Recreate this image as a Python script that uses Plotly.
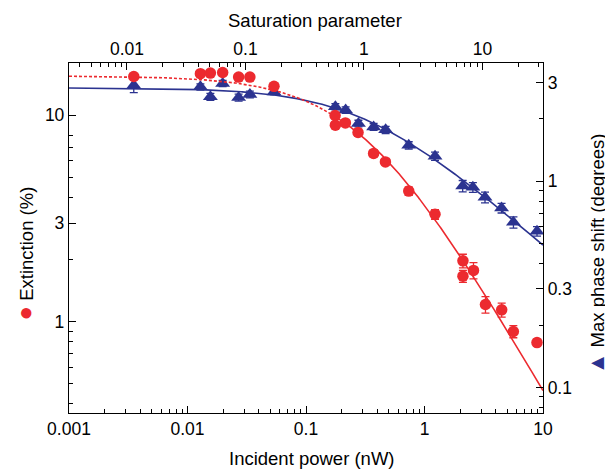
import numpy as np
import plotly.graph_objects as go

# ---------------- data ----------------
power_ext = [0.00352, 0.01285, 0.0156, 0.0198, 0.0270, 0.0336, 0.0537, 0.176, 0.177,
             0.215, 0.275, 0.372, 0.468, 0.736, 1.227, 2.11, 2.11, 2.59, 3.27, 4.48,
             5.62, 8.90]
extinction = [15.4, 15.9, 16.0, 16.1, 15.3, 15.3, 13.8, 9.97, 8.95, 9.18, 8.25, 6.53,
              5.94, 4.29, 3.31, 1.97, 1.66, 1.77, 1.21, 1.14, 0.895, 0.791]
extinction_err = [0.3, 0.3, 0.3, 0.3, 0.3, 0.3, 0.3, 0.3, 0.3, 0.3, 0.3, 0.25, 0.2,
                  0.2, 0.18, 0.15, 0.11, 0.16, 0.11, 0.09, 0.06, 0.03]

power_ph = [0.00352, 0.01285, 0.0156, 0.0198, 0.0270, 0.0336, 0.0537, 0.177, 0.216,
            0.277, 0.372, 0.470, 0.736, 1.227, 2.10, 2.56, 3.24, 4.47, 5.63, 8.90]
phase = [2.91, 2.86, 2.56, 2.97, 2.54, 2.63, 2.70, 2.29, 2.21, 1.90, 1.83, 1.77, 1.49,
         1.32, 0.946, 0.932, 0.834, 0.740, 0.631, 0.571]
phase_err = [0.23, 0.1, 0.1, 0.1, 0.1, 0.1, 0.08, 0.08, 0.08, 0.07, 0.07, 0.07, 0.06,
             0.06, 0.06, 0.05, 0.05, 0.04, 0.04, 0.03]

# fit parameters of the saturation model curves
E0 = 15.5          # low-power extinction (%)
PHI0 = 2.83        # low-power phase shift (deg)
P_SAT = 0.308      # saturation power (nW), s = P / P_SAT
P_SWITCH = 0.17    # red fit drawn dashed below this power

bottom_ticks = [0.001, 0.01, 0.1, 1, 10]
bottom_labels = ["0.001", "0.01", "0.1", "1", "10"]
top_ticks = [0.01, 0.1, 1, 10]
top_labels = ["0.01", "0.1", "1", "10"]
left_ticks = [1, 3, 10]
left_labels = ["1", "3", "10"]
right_ticks = [0.1, 0.3, 1, 3]
right_labels = ["0.1", "0.3", "1", "3"]

RED = "#EC2A2F"
BLUE = "#2B3390"
FONT = "Liberation Sans, Arial, sans-serif"

# ---------------- model curves ----------------
P = np.logspace(-3, 1, 400)
s = P / P_SAT
ext_fit = E0 / (1 + s)
ph_fit = PHI0 / np.sqrt(1 + s)
lo = P <= P_SWITCH
hi = P >= P_SWITCH

fig = go.Figure()

# blue (phase) on y (right side)
fig.add_trace(go.Scatter(x=P, y=ph_fit, mode="lines", line=dict(color=BLUE, width=1.6),
                         xaxis="x", yaxis="y", hoverinfo="skip", showlegend=False))
fig.add_trace(go.Scatter(x=power_ph, y=phase, mode="markers",
                         marker=dict(symbol="triangle-up", size=13, color=BLUE),
                         error_y=dict(type="data", array=phase_err, color=BLUE,
                                      thickness=1.3, width=4),
                         xaxis="x", yaxis="y", showlegend=False))
# invisible helper trace activating the top axis
fig.add_trace(go.Scatter(x=[1], y=[1], mode="markers", marker=dict(opacity=0),
                         xaxis="x2", yaxis="y", hoverinfo="skip", showlegend=False))

# red (extinction) on y2 (left side)
fig.add_trace(go.Scatter(x=P[lo], y=ext_fit[lo], mode="lines",
                         line=dict(color=RED, width=1.6, dash="3px,2px"),
                         xaxis="x", yaxis="y2", hoverinfo="skip", showlegend=False))
fig.add_trace(go.Scatter(x=P[hi], y=ext_fit[hi], mode="lines",
                         line=dict(color=RED, width=1.6),
                         xaxis="x", yaxis="y2", hoverinfo="skip", showlegend=False))
fig.add_trace(go.Scatter(x=power_ext, y=extinction, mode="markers",
                         marker=dict(symbol="circle", size=11.5, color=RED),
                         error_y=dict(type="data", array=extinction_err, color=RED,
                                      thickness=1.3, width=4),
                         xaxis="x", yaxis="y2", showlegend=False))


def minor_vals(lo_dec, hi_dec, vmin, vmax, skip=()):
    vals = []
    for d in range(lo_dec, hi_dec + 1):
        for m in range(2, 10):
            v = m * 10.0 ** d
            if vmin < v < vmax and round(v, 6) not in skip:
                vals.append(v)
    return vals


tickfont = dict(family=FONT, size=17.5, color="black")
axis_common = dict(type="log", showgrid=False, zeroline=False, showline=True,
                   linecolor="black", linewidth=1.3, ticks="inside", ticklen=7,
                   tickwidth=1.2, tickcolor="black", tickfont=tickfont)

xr = [-3, 1]
x2r = [-2.489, 1.511]
y2r = [-0.443, 1.253]   # extinction, left
yr = [-1.124, 0.572]    # phase, right

# page body adds an 8px offset, so the figure is sized to fit the 613x470 window
fig.update_layout(
    width=605, height=462,
    margin=dict(l=61, r=70, t=55, b=57),
    paper_bgcolor="white", plot_bgcolor="white",
    font=dict(family=FONT, color="black"),
    xaxis=dict(axis_common, range=xr, side="bottom", tickmode="array",
               tickvals=bottom_ticks, ticktext=bottom_labels,
               minor=dict(tickmode="array", tickvals=minor_vals(-3, 0, 0.001, 10),
                          ticks="inside", ticklen=4, tickcolor="black", tickwidth=1)),
    xaxis2=dict(axis_common, range=x2r, side="top", overlaying="x", anchor="y",
                tickmode="array", tickvals=top_ticks, ticktext=top_labels,
                minor=dict(tickmode="array", tickvals=minor_vals(-3, 1, 0.0032, 32.5),
                           ticks="inside", ticklen=4, tickcolor="black", tickwidth=1)),
    yaxis=dict(axis_common, range=yr, side="right", anchor="x",
               tickmode="array", tickvals=right_ticks, ticktext=right_labels,
               minor=dict(tickmode="array",
                          tickvals=minor_vals(-2, 0, 0.075, 3.7, skip=(0.3, 3.0)),
                          ticks="inside", ticklen=4, tickcolor="black", tickwidth=1)),
    yaxis2=dict(axis_common, range=y2r, side="left", overlaying="y", anchor="x",
                tickmode="array", tickvals=left_ticks, ticktext=left_labels,
                minor=dict(tickmode="array",
                           tickvals=minor_vals(-1, 0, 0.36, 17.9, skip=(3.0, 9.0)),
                           ticks="inside", ticklen=4, tickcolor="black", tickwidth=1)),
)

title_font = dict(family=FONT, size=18.5, color="black")
fig.add_annotation(text="Incident power (nW)", xref="paper", yref="paper",
                   x=0.513, y=-0.13, xanchor="center", yanchor="middle",
                   showarrow=False, font=title_font)
fig.add_annotation(text="Saturation parameter", xref="paper", yref="paper",
                   x=0.52, y=1.122, xanchor="center", yanchor="middle",
                   showarrow=False, font=title_font)
fig.add_annotation(text=f"<span style='color:{RED};font-size:24px'>●</span> Extinction (%)",
                   xref="paper", yref="paper", x=-0.0935, y=0.455,
                   xanchor="center", yanchor="middle", textangle=-90,
                   showarrow=False, font=title_font)
fig.add_annotation(text=f"<span style='color:{BLUE};font-size:22px'>▲</span> Max phase shift (degrees)",
                   xref="paper", yref="paper", x=1.113, y=0.455,
                   xanchor="center", yanchor="middle", textangle=-90,
                   showarrow=False, font=title_font)

fig.write_html("out.html")
